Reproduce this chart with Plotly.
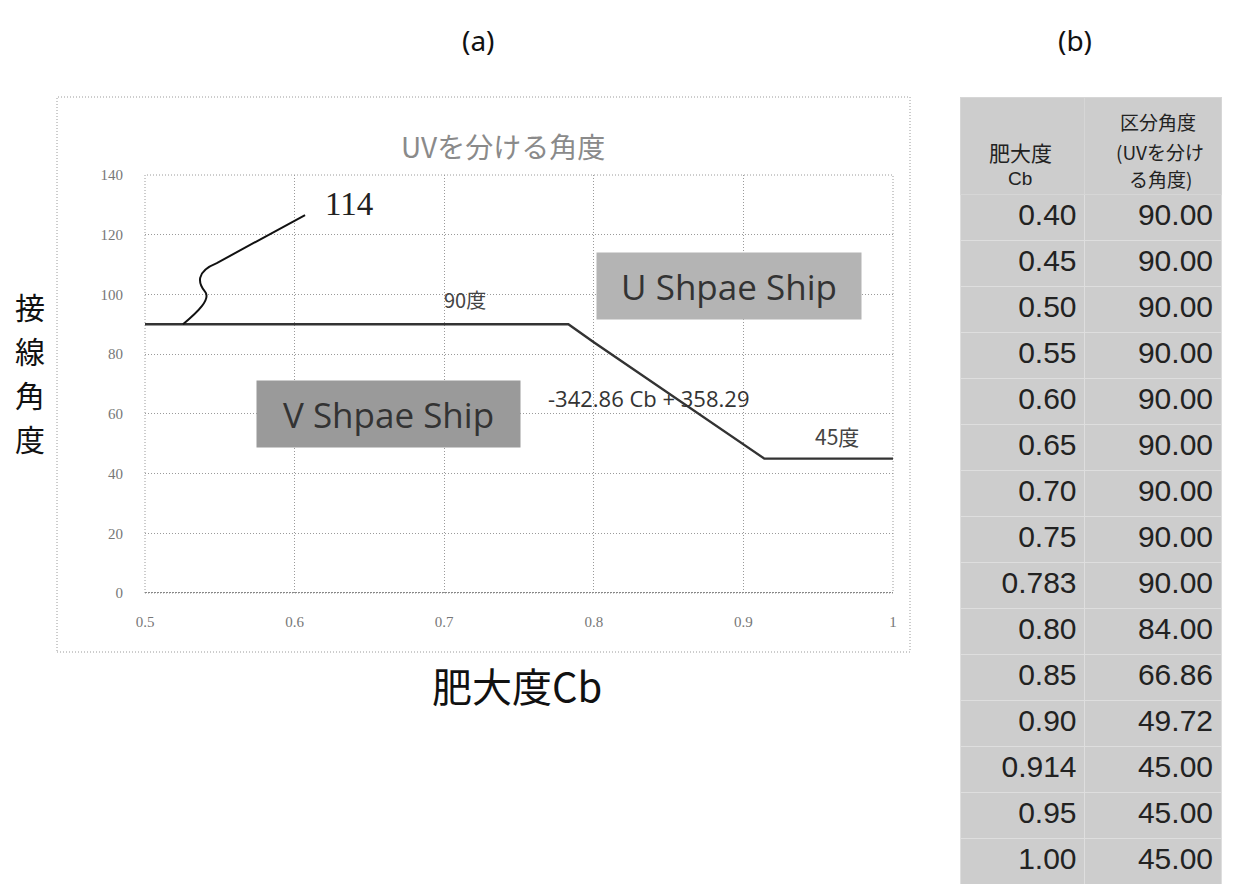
import plotly.graph_objects as go

# ---- data ----
cb = [0.40, 0.45, 0.50, 0.55, 0.60, 0.65, 0.70, 0.75, 0.783, 0.80, 0.85, 0.90, 0.914, 0.95, 1.00]
angle = [90.00, 90.00, 90.00, 90.00, 90.00, 90.00, 90.00, 90.00, 90.00, 84.00, 66.86, 49.72, 45.00, 45.00, 45.00]
cb_labels = ["0.40", "0.45", "0.50", "0.55", "0.60", "0.65", "0.70", "0.75", "0.783", "0.80", "0.85", "0.90", "0.914", "0.95", "1.00"]
angle_labels = [f"{v:.2f}" for v in angle]
x_ticks = [0.5, 0.6, 0.7, 0.8, 0.9, 1.0]
x_tick_text = ["0.5", "0.6", "0.7", "0.8", "0.9", "1"]
y_ticks = [0, 20, 40, 60, 80, 100, 120, 140]

W, H = 1234, 884
def px(x): return x / W
def py(y): return 1 - y / H

JP = "Noto Sans CJK JP"

fig = go.Figure()

fig.add_trace(go.Scatter(
    x=cb, y=angle, mode="lines",
    line=dict(color="#333333", width=2.4),
    showlegend=False, cliponaxis=True,
))

fig.add_trace(go.Table(
    domain=dict(x=[px(960), px(1222)], y=[0.0, py(97)]),
    columnwidth=[125, 137],
    header=dict(
        values=["", ""],
        fill_color="#cdcdcd",
        line=dict(color="#d6d6d6", width=1),
        height=97,
    ),
    cells=dict(
        values=[cb_labels, angle_labels],
        fill_color="#cdcdcd",
        line=dict(color="#dedede", width=1),
        align="right",
        font=dict(family="Liberation Sans", size=30, color="#222222"),
        height=46,
    ),
))

grid_color = "#9a9a9a"
fig.update_layout(
    width=W, height=H,
    margin=dict(l=0, r=0, t=0, b=0, pad=0, autoexpand=False),
    paper_bgcolor="white", plot_bgcolor="white",
    showlegend=False,
    xaxis=dict(
        domain=[px(145), px(893)], range=[0.5, 1.0],
        tickvals=x_ticks, ticktext=x_tick_text,
        showgrid=True, gridcolor=grid_color, griddash="1px,2px", gridwidth=1,
        zeroline=False, showline=False, ticks="", automargin=False,
        tickfont=dict(family="Liberation Serif", size=15, color="#777777"),
        ticklabelstandoff=18,
        anchor="y",
    ),
    yaxis=dict(
        domain=[py(593), py(175)], range=[0, 140],
        tickvals=y_ticks,
        showgrid=True, gridcolor=grid_color, griddash="1px,2px", gridwidth=1,
        zeroline=False, showline=False, ticks="", automargin=False,
        tickfont=dict(family="Liberation Serif", size=15, color="#777777"),
        ticklabelstandoff=21,
        anchor="x",
    ),
)

# plot area border and outer chart border
fig.add_shape(type="rect", xref="x domain", yref="y domain", x0=0, x1=1, y0=0, y1=1,
              line=dict(color=grid_color, width=1, dash="1px,2px"), layer="below")
fig.add_shape(type="line", xref="x domain", yref="y", x0=0, x1=1, y0=0, y1=0,
              line=dict(color="#888888", width=2, dash="2px,1px"))
fig.add_shape(type="rect", xref="paper", yref="paper", x0=px(57), x1=px(910), y0=py(652), y1=py(97),
              line=dict(color="#9a9a9a", width=1, dash="1px,2px"))

# leader curve to "114"
fig.add_shape(type="path", xref="x", yref="y",
              path="M 0.5254,90 C 0.535,94 0.5445,98.5 0.540,101 C 0.536,103.5 0.533,107.5 0.548,110.5 L 0.607,126.6",
              line=dict(color="#111111", width=2))

def txt(x, y, text, size, color="#222222", family=JP, ref="paper", **kw):
    d = dict(x=x, y=y, xref=ref if ref == "paper" else "x", yref=ref if ref == "paper" else "y",
             text=text, showarrow=False, xanchor="center", yanchor="middle",
             font=dict(family=family, size=size, color=color))
    d.update(kw)
    return d

ann = []
ann.append(txt(0.6365, 130.3, "114", 33, family="Liberation Serif", ref="data"))
ann.append(txt(0.7139, 98.3, "90度", 20, color="#444444", ref="data"))
ann.append(txt(0.9626, 52.7, "45度", 21, color="#444444", ref="data"))
ann.append(txt(0.8366, 65.2, "-342.86 Cb + 358.29", 22, color="#333333", family="Open Sans", ref="data"))
ann.append(txt(0.6628, 59.9, "V Shpae Ship", 35, color="#333333", family="Open Sans", ref="data",
               width=259, height=62, bgcolor="#9a9a9a", borderpad=2))
ann.append(txt(0.8904, 102.8, "U Shpae Ship", 35, color="#333333", family="Open Sans", ref="data",
               width=260, height=62, bgcolor="#b4b4b4", borderpad=2))
ann.append(txt(px(503), py(146), "UVを分ける角度", 28, color="#8a8a8a"))
for ch, yy in zip(["接", "線", "角", "度"], [306, 350, 394, 438]):
    ann.append(txt(px(30), py(yy), ch, 30, color="#111111"))
ann.append(txt(px(517), py(685), "肥大度Cb", 40, color="#111111"))
ann.append(txt(px(478), py(40), "(a)", 28, color="#111111", family="Noto Sans"))
ann.append(txt(px(1075), py(40), "(b)", 28, color="#111111", family="Noto Sans"))
# table header text
ann.append(txt(px(1020), py(151.5), "肥大度", 21, color="#222222"))
ann.append(txt(px(1020), py(179), "Cb", 19, color="#222222", family="Liberation Sans"))
ann.append(txt(px(1158), py(122), "区分角度", 19, color="#222222"))
ann.append(txt(px(1160), py(151), "(UVを分け", 19, color="#222222"))
ann.append(txt(px(1160), py(179), "る角度)", 19, color="#222222"))
fig.update_layout(annotations=ann)

fig.write_html("out.html", config={"displayModeBar": False},
               post_script="document.body.style.margin='0px';")
